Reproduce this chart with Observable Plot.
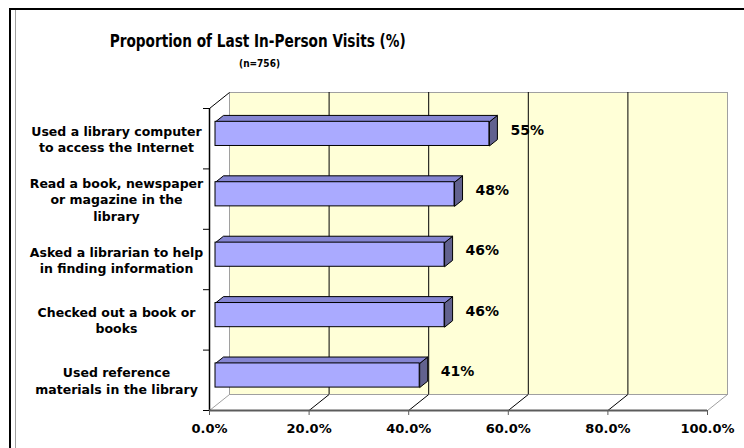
<!DOCTYPE html>
<html>
<head>
<meta charset="utf-8">
<script src="https://cdn.jsdelivr.net/npm/d3@7"></script>
<script src="https://cdn.jsdelivr.net/npm/@observablehq/plot@0.6"></script>
<style>
  html, body { margin: 0; padding: 0; background: #fff; }
  #wrap { position: relative; width: 744px; height: 448px; overflow: hidden; background: #fff;
          font-family: "DejaVu Sans", Verdana, sans-serif; }
  #chart { position: absolute; left: 0; top: 80px; }
  .ttl { position: absolute; white-space: nowrap; font-weight: bold; color: #000;
         font-family: "DejaVu Sans Condensed", "DejaVu Sans", sans-serif; line-height: 1; }
  #frameTop { position: absolute; left: 9px; top: 8px; width: 735px; height: 2px; background: #000; }
  #frameLeft { position: absolute; left: 9px; top: 8px; width: 2px; height: 440px; background: #000; }
  #frameInner { position: absolute; left: 15px; top: 10px; width: 1px; height: 438px; background: #a0a0a0; }
</style>
</head>
<body>
<div id="wrap">
  <div id="chart"></div>
  <div id="title" class="ttl"></div>
  <div id="subtitle" class="ttl"></div>
  <div id="frameTop"></div>
  <div id="frameLeft"></div>
  <div id="frameInner"></div>
</div>
<script>
// ---- data ----
const title = "Proportion of Last In-Person Visits (%)";
const subtitle = "(n=756)";
const categories = [
  "Used a library computer\nto access the Internet",
  "Read a book, newspaper\nor magazine in the\nlibrary",
  "Asked a librarian to help\nin finding information",
  "Checked out a book or\nbooks",
  "Used reference\nmaterials in the library"
];
const values = [55, 48, 46, 46, 41];
const valueLabels = ["55%", "48%", "46%", "46%", "41%"];
const xTicks = [0, 20, 40, 60, 80, 100];
const xTickLabels = ["0.0%", "20.0%", "40.0%", "60.0%", "80.0%", "100.0%"];

// ---- layout ----
const W = 744, H = 368, ML = 209, MR = 37, MT = 28, MB = 38;
const DEPTH_X = 20, DEPTH_Y = 16;        // 3D depth of the plot box, px
const F_FRONT = 0.3, F_BACK = 0.7;       // bar depth position (fraction of box depth)
const BAR_INSET = 0.3;                   // fraction of band left empty above/below a bar
const n = categories.length;
const xMin = xTicks[0], xMax = xTicks[xTicks.length - 1];
const kx = (xMax - xMin) / (W - ML - MR);  // data units per px
const ky = n / (H - MT - MB);

const rows = categories.map((c, i) => ({i, c, v: values[i], label: valueLabels[i]}));
const bx = (F_BACK - F_FRONT) * DEPTH_X * kx;
const by = (F_BACK - F_FRONT) * DEPTH_Y * ky;
const topPts = rows.flatMap(r => {
  const y = r.i + BAR_INSET;
  return [[xMin, y], [r.v, y], [r.v + bx, y - by], [xMin + bx, y - by], [xMin, y]]
    .map(([x, yy]) => ({id: r.i, x, y: yy}));
});
const sidePts = rows.flatMap(r => {
  const y1 = r.i + BAR_INSET, y2 = r.i + 1 - BAR_INSET;
  return [[r.v, y1], [r.v + bx, y1 - by], [r.v + bx, y2 - by], [r.v, y2], [r.v, y1]]
    .map(([x, yy]) => ({id: r.i, x, y: yy}));
});
const fdx = F_FRONT * DEPTH_X, fdy = -F_FRONT * DEPTH_Y;
const inner = xTicks.slice(1, -1);
const edges = [xMin, xMax];

const chart = Plot.plot({
  width: W, height: H,
  marginLeft: ML, marginRight: MR, marginTop: MT, marginBottom: MB,
  x: {domain: [xMin, xMax], label: null, axis: null},
  y: {domain: [0, n], range: [MT, H - MB], label: null, axis: null},
  style: {background: "transparent", fontFamily: '"DejaVu Sans", Verdana, sans-serif',
          fontWeight: "bold", color: "#000", overflow: "visible"},
  marks: [
    // back wall
    Plot.frame({fill: "#FFFFD7", stroke: "#a0a0a0", dx: DEPTH_X, dy: -DEPTH_Y}),
    Plot.ruleX(inner, {dx: DEPTH_X, dy: -DEPTH_Y, stroke: "#000"}),
    // floor diagonals
    Plot.link(inner, {x1: d => d, y1: n, x2: d => d + DEPTH_X * kx, y2: n - DEPTH_Y * ky, stroke: "#000"}),
    Plot.link(edges, {x1: d => d, y1: n, x2: d => d + DEPTH_X * kx, y2: n - DEPTH_Y * ky, stroke: "#a0a0a0"}),
    // left wall top diagonal
    Plot.link([0], {x1: xMin, y1: 0, x2: xMin + DEPTH_X * kx, y2: -DEPTH_Y * ky, stroke: "#000"}),
    // 3D bars
    Plot.line(sidePts, {x: "x", y: "y", z: "id", fill: "#62628F", stroke: "#000", strokeWidth: 1, dx: fdx, dy: fdy}),
    Plot.line(topPts, {x: "x", y: "y", z: "id", fill: "#8585D2", stroke: "#000", strokeWidth: 1, dx: fdx, dy: fdy}),
    Plot.rect(rows, {x1: xMin, x2: "v", y1: d => d.i + BAR_INSET, y2: d => d.i + 1 - BAR_INSET,
                     fill: "#AAAAFF", stroke: "#000", strokeWidth: 1, dx: fdx, dy: fdy}),
    // y axis
    Plot.ruleX([xMin], {y1: 0, y2: n, stroke: "#000", strokeWidth: 1.5}),
    Plot.ruleY(d3.range(n + 1), {x1: xMin, x2: xMin - 6 * kx, stroke: "#000"}),
    // x axis
    Plot.ruleY([n], {x1: xMin, x2: xMax, stroke: "#5c5c5c", strokeWidth: 2}),
    Plot.axisX(xTicks, {tickSize: 5, tickPadding: 8, stroke: "#5c5c5c", fontSize: 13,
                        tickFormat: d => xTickLabels[xTicks.indexOf(d)]}),
    // labels
    Plot.text(rows, {x: "v", y: d => d.i + 0.5, text: "label", dx: 27, dy: -8.5,
                     textAnchor: "start", fontSize: 14}),
    Plot.text(rows, {x: xMin, y: d => d.i + 0.5, text: "c", dx: -93, textAnchor: "middle",
                     fontSize: 12.5, lineHeight: 1.3})
  ]
});
document.getElementById("chart").appendChild(chart);

// ---- title / subtitle ----
function place(el, text, size, targetW, cx, cy) {
  el.textContent = text;
  el.style.fontSize = size + "px";
  const r = el.getBoundingClientRect();
  el.style.left = (cx - r.width / 2) + "px";
  el.style.top = (cy - r.height / 2) + "px";
  el.style.transformOrigin = "50% 50%";
  el.style.transform = `scaleX(${targetW / r.width})`;
}
place(document.getElementById("title"), title, 18, 296, 258, 41);
place(document.getElementById("subtitle"), subtitle, 11, 41, 259.5, 63);
</script>
</body>
</html>
